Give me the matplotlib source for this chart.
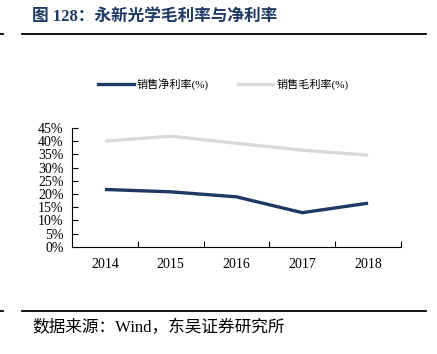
import matplotlib
matplotlib.use('Agg')
import matplotlib.pyplot as plt
from matplotlib.lines import Line2D

''' Data '''
years = ['2014', '2015', '2016', '2017', '2018']
net_margin = [21.7, 20.8, 18.9, 12.9, 16.5]     # 销售净利率(%)
gross_margin = [40.0, 41.9, 39.2, 36.6, 34.7]   # 销售毛利率(%)
y_ticks = [0, 5, 10, 15, 20, 25, 30, 35, 40, 45]

title_text = '图 128：永新光学毛利率与净利率'
source_text = '数据来源：Wind，东吴证券研究所'
net_label = '销售净利率(%)'
gross_label = '销售毛利率(%)'

navy = '#1F3864'
grey = '#D9D9D9'
fam = ['Liberation Serif', 'Noto Sans CJK SC']

''' Figure '''
W, H = 437, 354
fig = plt.figure(figsize=(W / 100, H / 100), dpi=100)
ax = fig.add_axes([72 / W, 1 - 246.7 / H, (401 - 72) / W, (246.7 - 128) / H])

x = list(range(len(years)))
ax.plot(x, gross_margin, color=grey, lw=2.4, solid_capstyle='butt', label=gross_label)
ax.plot(x, net_margin, color=navy, lw=2.4, solid_capstyle='butt', label=net_label)

ax.set_xlim(-0.5, len(years) - 0.5)
ax.set_ylim(0, 45)
ax.set_yticks(y_ticks)
ax.set_yticklabels([f'{v}%' for v in y_ticks], family=fam, fontsize=10)
ax.set_xticks(x)
ax.set_xticklabels(years, family=fam, fontsize=10)
ax.set_xticks([i + 0.5 for i in x], minor=True)
ax.tick_params(axis='x', which='major', length=0, pad=8)
ax.tick_params(axis='x', which='minor', direction='in', length=4, width=0.8)
ax.tick_params(axis='y', direction='in', length=4, width=0.8, pad=6)
for s in ['top', 'right']:
    ax.spines[s].set_visible(False)
for s in ['left', 'bottom']:
    ax.spines[s].set_linewidth(0.8)

#Legend
handles = [Line2D([], [], color=navy, lw=2.4), Line2D([], [], color=grey, lw=2.4)]
fig.legend(handles, [net_label, gross_label], loc='center left',
           bbox_to_anchor=(88 / W, 1 - 84 / H), ncol=2, frameon=False,
           prop={'family': fam, 'size': 8}, handlelength=3.2, handletextpad=0.3,
           columnspacing=2.6)

#Title and frame lines
fig.text(32 / W, 1 - 17 / H, title_text, family=fam, fontsize=12,
         fontweight='bold', color=navy, va='center', ha='left')
fig.add_artist(Line2D([22 / W, 426 / W], [1 - 34.3 / H] * 2, color='black', lw=1.3))
fig.add_artist(Line2D([0, 3 / W], [1 - 34.3 / H] * 2, color='black', lw=1.3))
fig.add_artist(Line2D([22 / W, 426 / W], [1 - 310.7 / H] * 2, color='black', lw=1.3))
fig.add_artist(Line2D([0, 3 / W], [1 - 310.7 / H] * 2, color='black', lw=1.3))
fig.text(32 / W, 1 - 328 / H, source_text, family=fam, fontsize=12,
         color='black', va='center', ha='left')

fig.savefig('out.png', dpi=100)
